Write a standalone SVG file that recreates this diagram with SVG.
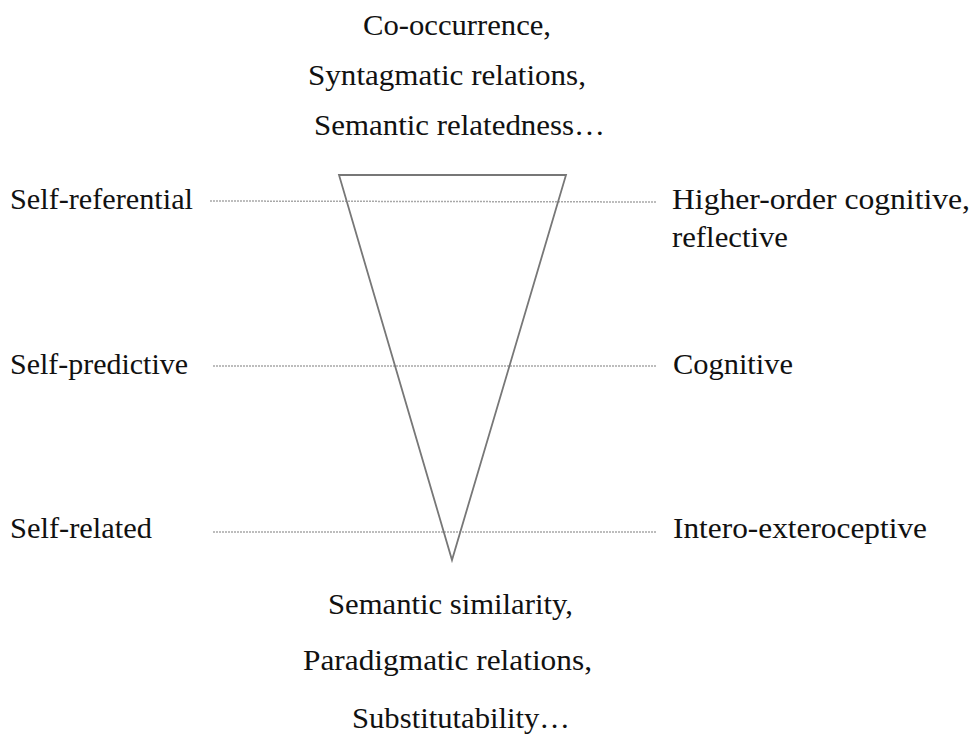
<svg xmlns="http://www.w3.org/2000/svg" width="971" height="743" viewBox="0 0 971 743">
<style>
text{font-family:"Liberation Serif","Times New Roman",serif;font-size:30px;fill:#111}
.lvl{stroke:#a8a8a8;stroke-width:1.5;stroke-dasharray:2 1;fill:none}
</style>
<rect width="971" height="743" fill="#fff"/>
<g id="connectors">
<line class="lvl" x1="210" y1="201" x2="657" y2="202"/>
<line class="lvl" x1="213" y1="366" x2="657" y2="366"/>
<line class="lvl" x1="213" y1="532" x2="657" y2="532"/>
</g>
<g id="triangle">
<polygon points="339,175 566,175 452,560" fill="none" stroke="#777" stroke-width="1.8"/>
</g>
<g id="top-labels">
<text x="363" y="35" textLength="188" lengthAdjust="spacingAndGlyphs">Co-occurrence,</text>
<text x="308" y="85" textLength="278" lengthAdjust="spacingAndGlyphs">Syntagmatic relations,</text>
<text x="314" y="135" textLength="291" lengthAdjust="spacingAndGlyphs">Semantic relatedness…</text>
</g>
<g id="bottom-labels">
<text x="328" y="614" textLength="245" lengthAdjust="spacingAndGlyphs">Semantic similarity,</text>
<text x="303" y="670" textLength="289" lengthAdjust="spacingAndGlyphs">Paradigmatic relations,</text>
<text x="352" y="728" textLength="218" lengthAdjust="spacingAndGlyphs">Substitutability…</text>
</g>
<g id="left-labels">
<text x="10" y="209" textLength="183" lengthAdjust="spacingAndGlyphs">Self-referential</text>
<text x="10" y="374" textLength="178" lengthAdjust="spacingAndGlyphs">Self-predictive</text>
<text x="10" y="538" textLength="142" lengthAdjust="spacingAndGlyphs">Self-related</text>
</g>
<g id="right-labels">
<text x="672" y="209" textLength="298" lengthAdjust="spacingAndGlyphs">Higher-order cognitive,</text>
<text x="672" y="247" textLength="116" lengthAdjust="spacingAndGlyphs">reflective</text>
<text x="673" y="374" textLength="120" lengthAdjust="spacingAndGlyphs">Cognitive</text>
<text x="673" y="538" textLength="254" lengthAdjust="spacingAndGlyphs">Intero-exteroceptive</text>
</g>
</svg>
